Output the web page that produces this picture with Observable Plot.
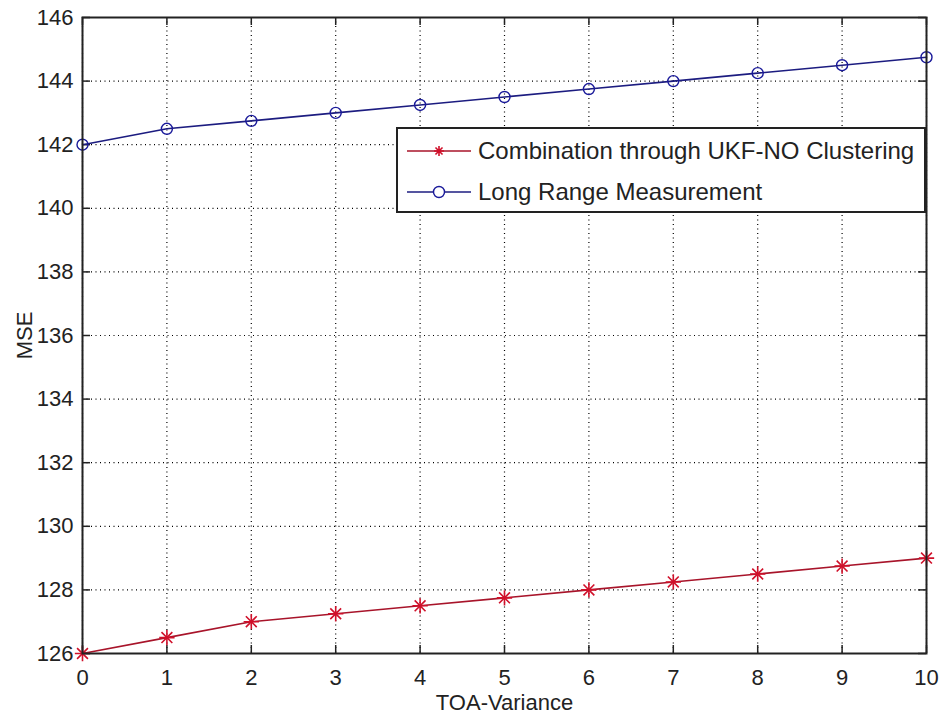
<!DOCTYPE html>
<html>
<head>
<meta charset="utf-8">
<script src="https://cdn.jsdelivr.net/npm/d3@7"></script>
<script src="https://cdn.jsdelivr.net/npm/@observablehq/plot@0.6"></script>
<style>
  html, body { margin: 0; padding: 0; background: #fff; }
  #wrap { position: relative; width: 942px; height: 715px; font-family: "Liberation Sans", Arial, sans-serif; }
  #legend { position: absolute; left: 396px; top: 127px; width: 526px; height: 82px; border: 2px solid #222; background: #fff; }
  .row { position: absolute; left: 0; height: 30px; display: flex; align-items: center; }
  .row span { font-size: 24px; color: #222; margin-left: 2px; white-space: nowrap; }
</style>
</head>
<body>
<div id="wrap"></div>
<script>
const variance = [0, 1, 2, 3, 4, 5, 6, 7, 8, 9, 10];
const ukfNoClustering = [126.0, 126.5, 127.0, 127.25, 127.5, 127.75, 128.0, 128.25, 128.5, 128.75, 129.0];
const longRange = [142.0, 142.5, 142.75, 143.0, 143.25, 143.5, 143.75, 144.0, 144.25, 144.5, 144.75];
const xTicks = [0, 1, 2, 3, 4, 5, 6, 7, 8, 9, 10];
const yTicks = [126, 128, 130, 132, 134, 136, 138, 140, 142, 144, 146];
const seriesNames = ["Combination through UKF-NO Clustering", "Long Range Measurement"];

const redLine = "#a8142a", redMark = "#d0102a";
const blueLine = "#1c1c80", blueMark = "#1a1a9a";

const red = variance.map((x, i) => ({x, y: ukfNoClustering[i]}));
const blue = variance.map((x, i) => ({x, y: longRange[i]}));

const W = 942, H = 715;
const mL = 82, mR = 16, mT = 17, mB = 62;
const fw = W - mL - mR, fh = H - mT - mB;
const tk = 8;

const chart = Plot.plot({
  width: W, height: H,
  marginLeft: mL, marginRight: mR, marginTop: mT, marginBottom: mB,
  style: {fontFamily: "Liberation Sans, Arial, sans-serif", fontSize: "22px", color: "#222", background: "#fff"},
  x: {domain: [0, 10]},
  y: {domain: [126, 146]},
  marks: [
    Plot.gridX(xTicks, {stroke: "#000", strokeOpacity: 1, strokeDasharray: "1,3.5", strokeWidth: 1.2}),
    Plot.gridY(yTicks, {stroke: "#000", strokeOpacity: 1, strokeDasharray: "1,3.5", strokeWidth: 1.2}),
    Plot.tickX(xTicks, {x: d => d, stroke: "#222", strokeWidth: 1.5, insetTop: fh - tk}),
    Plot.tickX(xTicks, {x: d => d, stroke: "#222", strokeWidth: 1.5, insetBottom: fh - tk}),
    Plot.tickY(yTicks, {y: d => d, stroke: "#222", strokeWidth: 1.5, insetRight: fw - tk}),
    Plot.tickY(yTicks, {y: d => d, stroke: "#222", strokeWidth: 1.5, insetLeft: fw - tk}),
    Plot.axisX(xTicks, {tickSize: 0, tickPadding: 16, fontSize: 22, label: "TOA-Variance", labelArrow: "none", labelAnchor: "center", labelOffset: 56}),
    Plot.axisY(yTicks, {tickSize: 0, tickPadding: 9, fontSize: 22, label: "MSE", labelArrow: "none", labelAnchor: "center", labelOffset: 66}),
    Plot.line(red, {x: "x", y: "y", stroke: redLine, strokeWidth: 1.6}),
    Plot.line(blue, {x: "x", y: "y", stroke: blueLine, strokeWidth: 1.6}),
    Plot.dot(red, {x: "x", y: "y", symbol: "plus", r: 5, stroke: redMark, strokeWidth: 1.6}),
    Plot.dot(red, {x: "x", y: "y", symbol: "times", r: 5, stroke: redMark, strokeWidth: 1.6}),
    Plot.dot(blue, {x: "x", y: "y", symbol: "circle", r: 5.5, stroke: blueMark, fill: "none", strokeWidth: 1.4}),
    Plot.frame({stroke: "#222", strokeWidth: 2})
  ]
});

const wrap = document.getElementById("wrap");
wrap.appendChild(chart);

const legend = document.createElement("div");
legend.id = "legend";
const specs = [
  {name: seriesNames[0], line: redLine, mark: redMark, kind: "star", top: 7},
  {name: seriesNames[1], line: blueLine, mark: blueMark, kind: "circle", top: 48}
];
for (const s of specs) {
  const row = document.createElement("div");
  row.className = "row";
  row.style.top = s.top + "px";
  const ns = "http://www.w3.org/2000/svg";
  const sv = document.createElementNS(ns, "svg");
  sv.setAttribute("width", 78); sv.setAttribute("height", 30);
  const ln = document.createElementNS(ns, "line");
  ln.setAttribute("x1", 9); ln.setAttribute("x2", 73); ln.setAttribute("y1", 15); ln.setAttribute("y2", 15);
  ln.setAttribute("stroke", s.line); ln.setAttribute("stroke-width", 1.6);
  sv.appendChild(ln);
  if (s.kind === "circle") {
    const c = document.createElementNS(ns, "circle");
    c.setAttribute("cx", 41); c.setAttribute("cy", 15); c.setAttribute("r", 5.5);
    c.setAttribute("fill", "#fff"); c.setAttribute("stroke", s.mark); c.setAttribute("stroke-width", 1.4);
    sv.appendChild(c);
  } else {
    const p = document.createElementNS(ns, "path");
    const r = 5, d = r * Math.SQRT1_2;
    p.setAttribute("d", `M${41-r},15H${41+r}M41,${15-r}V${15+r}M${41-d},${15-d}L${41+d},${15+d}M${41-d},${15+d}L${41+d},${15-d}`);
    p.setAttribute("stroke", s.mark); p.setAttribute("stroke-width", 1.6);
    sv.appendChild(p);
  }
  row.appendChild(sv);
  const t = document.createElement("span");
  t.textContent = s.name;
  row.appendChild(t);
  legend.appendChild(row);
}
wrap.appendChild(legend);
</script>
</body>
</html>
